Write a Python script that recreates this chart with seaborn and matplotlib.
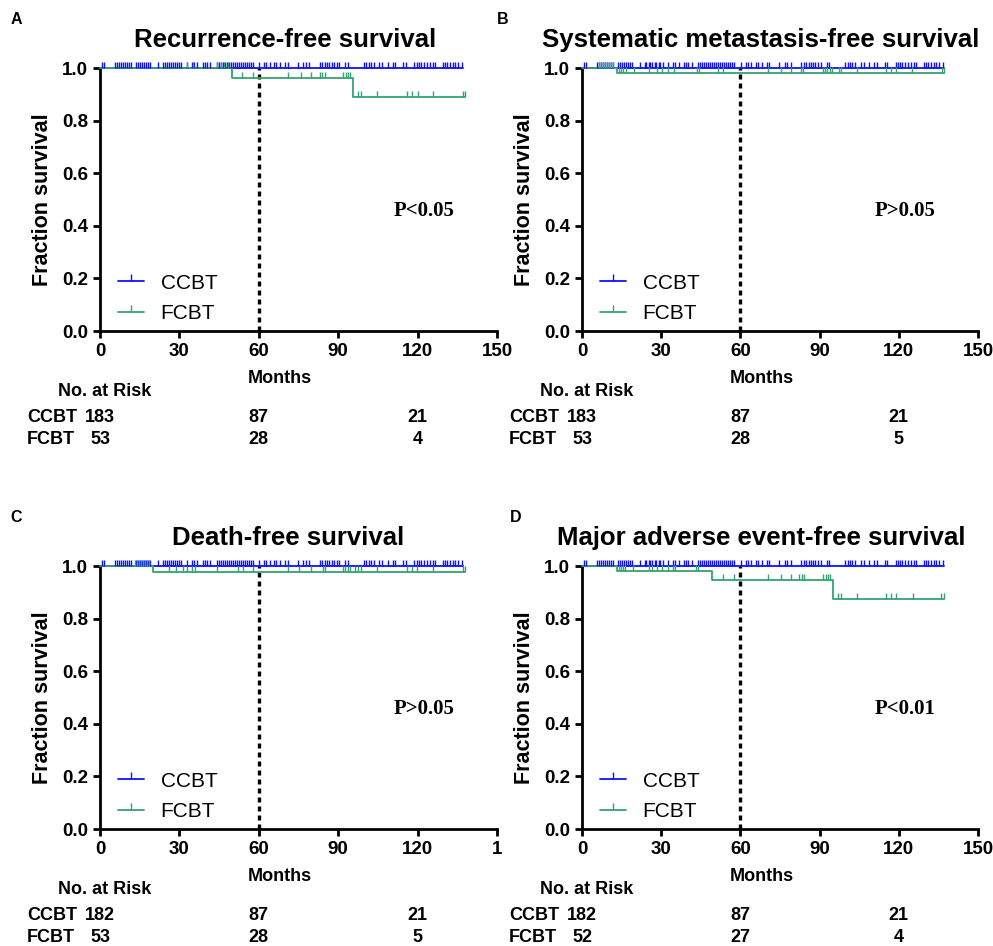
import numpy as np
import pandas as pd
import matplotlib
matplotlib.use("Agg")
import matplotlib.pyplot as plt
import seaborn as sns
from matplotlib.lines import Line2D
from matplotlib.transforms import blended_transform_factory

# ---------------- data ----------------
groups = ["CCBT", "FCBT"]
panel_letters = ["A", "B", "C", "D"]
panel_titles = ["Recurrence-free survival", "Systematic metastasis-free survival",
                "Death-free survival", "Major adverse event-free survival"]
p_values = ["P<0.05", "P>0.05", "P>0.05", "P<0.01"]
x_ticks = [0, 30, 60, 90, 120, 150]
x_ticklabels_full = ["0", "30", "60", "90", "120", "150"]
x_ticklabels_C = ["0", "30", "60", "90", "120", "1"]
y_ticks = [0.0, 0.2, 0.4, 0.6, 0.8, 1.0]
risk_times = [0, 60, 120]
landmark = 60

# CCBT: no events, censored times (shared cohort)
ccbt_step_t = [0, 137.0]
ccbt_step_s = [1.0, 1.0]
ccbt_censor = [0.8, 1.5, 5.8, 6.5, 7.3, 8.1, 8.8, 9.6, 10.3, 11.1, 11.8,
               13.6, 14.4, 15.1, 15.9, 16.6, 17.4, 18.1, 18.9, 21.8,
               23.7, 24.4, 25.2, 25.9, 26.7, 27.5, 28.2, 29.0, 29.7, 30.5,
               32.7, 34.6, 35.4, 36.8, 38.8, 39.5, 40.3, 41.6,
               44.1, 44.8, 45.6, 46.3, 47.1, 47.9, 48.6, 49.4, 50.1, 50.9,
               51.6, 52.4, 53.1, 53.9, 54.7, 55.4, 56.2, 56.9, 57.7,
               60.1, 62.0, 62.7, 64.2, 65.9, 66.6, 68.0, 69.9, 70.9, 74.8,
               76.8, 77.8, 79.1, 83.1, 84.0, 84.9, 85.8, 86.6, 87.5, 88.4,
               89.4, 90.4, 92.7, 93.7, 99.7, 100.6, 101.5, 102.4, 103.5,
               105.5, 106.7, 108.7, 110.6, 111.6, 114.6, 115.6,
               118.8, 119.6, 120.5, 121.4, 122.4, 123.4, 124.7, 125.7, 126.7,
               129.5, 130.4, 131.2, 132.2, 133.2, 134.1, 135.4, 136.6]

# FCBT step curves (time of change, survival level) and censor times per panel
A_fcbt_step_t = [0, 49.7, 95.7, 137.9]
A_fcbt_step_s = [1.0, 0.963, 0.891, 0.891]
A_fcbt_censor = [32.8, 35.1, 44.2, 45.6, 47.0, 48.4,
                 53.8, 57.8, 70.9, 75.8, 79.8, 83.1, 84.0, 85.0, 91.9, 92.8, 93.7, 94.6,
                 97.6, 98.5, 104.8, 115.9, 117.8, 120.3, 125.9, 137.0, 137.8]

B_fcbt_step_t = [0, 13.3, 137.3]
B_fcbt_step_s = [1.0, 0.981, 0.981]
B_fcbt_censor = [6.3, 7.1, 7.8, 8.6, 9.3, 10.1, 11.1, 11.8,
                 13.9, 14.6, 15.4, 16.6, 19.6, 25.4, 28.5, 30.2, 32.5, 35.0,
                 43.6, 44.3, 51.4, 53.4, 70.3, 75.3, 79.1, 82.9, 83.9, 91.1,
                 91.9, 92.9, 94.0, 94.8, 97.5, 98.2, 104.3, 115.0, 117.1,
                 119.1, 125.1, 136.4, 137.2]

C_fcbt_step_t = [0, 19.9, 137.9]
C_fcbt_step_s = [1.0, 0.978, 0.978]
C_fcbt_censor = [13.4, 14.1, 14.9, 15.6, 16.4, 17.1, 17.9, 18.6,
                 25.9, 28.8, 31.2, 32.7, 34.6, 35.8, 44.1, 52.0, 53.9, 57.7,
                 71.0, 75.1, 79.8, 84.1, 84.9, 91.9, 92.7, 93.6, 94.5, 96.3,
                 97.6, 98.6, 104.8, 115.9, 117.8, 119.9, 125.9, 137.3, 137.9]

D_fcbt_step_t = [0, 13.3, 49.2, 95.2, 137.3]
D_fcbt_step_s = [1.0, 0.981, 0.947, 0.876, 0.876]
D_fcbt_censor = [13.9, 14.6, 15.4, 16.1, 19.4, 25.2, 26.4, 28.5, 30.2, 32.5,
                 34.3, 35.3, 43.3, 44.1,
                 53.4, 57.4, 70.3, 75.3, 79.3, 82.3, 83.4, 84.1, 91.4, 92.3, 93.2, 94.1,
                 97.1, 98.0, 104.3, 115.1, 117.1, 119.1, 125.2, 136.1, 137.0]

A_risk_ccbt = [183, 87, 21]
A_risk_fcbt = [53, 28, 4]
B_risk_ccbt = [183, 87, 21]
B_risk_fcbt = [53, 28, 5]
C_risk_ccbt = [182, 87, 21]
C_risk_fcbt = [53, 28, 5]
D_risk_ccbt = [182, 87, 21]
D_risk_fcbt = [52, 27, 4]

# ---------------- style ----------------
sns.set_theme(style="ticks")
plt.rcParams["font.family"] = ["Liberation Sans", "DejaVu Sans"]
plt.rcParams["axes.linewidth"] = 2.0
for key in ["text.color", "axes.labelcolor", "xtick.color", "ytick.color",
            "axes.edgecolor", "xtick.labelcolor", "ytick.labelcolor"]:
    plt.rcParams[key] = "black"

BLUE = "#1010ff"
GREEN = "#35a372"
colors = {"CCBT": BLUE, "FCBT": GREEN}

W, H = 993, 946
fig = plt.figure(figsize=(W / 100, H / 100), dpi=100)


def px_axes(left, top, right, bottom):
    return fig.add_axes([left / W, 1 - bottom / H, (right - left) / W, (bottom - top) / H])


axes_px = [(100, 68, 497, 331), (582, 68, 978, 331),
           (100, 566, 497, 829), (582, 566, 978, 829)]
letter_px = [(16, 20), (503, 20), (16, 518), (516, 518)]
title_x = [0.466, 0.452, 0.474, 0.452]

panels = [
    (A_fcbt_step_t, A_fcbt_step_s, A_fcbt_censor, A_risk_ccbt, A_risk_fcbt, x_ticklabels_full),
    (B_fcbt_step_t, B_fcbt_step_s, B_fcbt_censor, B_risk_ccbt, B_risk_fcbt, x_ticklabels_full),
    (C_fcbt_step_t, C_fcbt_step_s, C_fcbt_censor, C_risk_ccbt, C_risk_fcbt, x_ticklabels_C),
    (D_fcbt_step_t, D_fcbt_step_s, D_fcbt_censor, D_risk_ccbt, D_risk_fcbt, x_ticklabels_full),
]


def level_at(step_t, step_s, t):
    idx = np.searchsorted(np.asarray(step_t), np.asarray(t), side="right") - 1
    return np.asarray(step_s)[np.clip(idx, 0, len(step_s) - 1)]


for i, (ft, fs, fc, rc, rf, xtl) in enumerate(panels):
    ax = px_axes(*axes_px[i])
    curves = pd.concat([
        pd.DataFrame({"t": ccbt_step_t, "s": ccbt_step_s, "g": "CCBT"}),
        pd.DataFrame({"t": ft, "s": fs, "g": "FCBT"}),
    ])
    sns.lineplot(data=curves, x="t", y="s", hue="g", palette=colors,
                 estimator=None, drawstyle="steps-post", linewidth=1.3,
                 legend=False, ax=ax, clip_on=False, zorder=3)
    # censor ticks
    ax.plot(ccbt_censor, level_at(ccbt_step_t, ccbt_step_s, ccbt_censor),
            linestyle="none", marker=2, markersize=4.5, markeredgewidth=1.0,
            color=BLUE, clip_on=False, zorder=4)
    ax.plot(fc, level_at(ft, fs, fc), linestyle="none", marker=2,
            markersize=4.5, markeredgewidth=1.0, color=GREEN, clip_on=False, zorder=5)

    ax.axvline(landmark, ymin=0, ymax=1, color="black", linewidth=2.4,
               linestyle=(0, (1.5, 1.2)), zorder=2)

    ax.set_xlim(0, 150)
    ax.set_ylim(0, 1.0)
    ax.set_xticks(x_ticks)
    ax.set_xticklabels(xtl)
    ax.set_yticks(y_ticks)
    ax.set_yticklabels([f"{v:.1f}" for v in y_ticks])
    ax.tick_params(axis="both", direction="out", length=5, width=2.0,
                   pad=3.5, labelsize=13.5, color="black", labelcolor="black")
    for lab in ax.get_xticklabels() + ax.get_yticklabels():
        lab.set_fontweight("bold")
    sns.despine(ax=ax)
    ax.spines["left"].set_linewidth(2.0)
    ax.spines["bottom"].set_linewidth(2.0)
    ax.spines["left"].set_color("black")
    ax.spines["bottom"].set_color("black")
    ax.grid(False)

    ax.set_ylabel("Fraction survival", fontsize=15.5, fontweight="bold", va="center")
    ax.yaxis.set_label_coords(-0.146, 0.5)
    ax.set_xlabel("Months", fontsize=13, fontweight="bold", va="center")
    ax.xaxis.set_label_coords(0.453, -0.179)

    ax.text(title_x[i], 1 + 28 / 263, panel_titles[i], transform=ax.transAxes,
            ha="center", va="center", fontsize=18.5, fontweight="bold")
    fig.text(letter_px[i][0] / W, 1 - letter_px[i][1] / H, panel_letters[i],
             ha="center", va="center", fontsize=11.5, fontweight="bold")

    ax.text(122.5, 0.455, p_values[i], ha="center", va="center", fontsize=15,
            fontweight="bold", family=["Liberation Serif", "DejaVu Serif"])

    handles = [Line2D([0], [0], color=colors[g], linewidth=1.3, marker=2,
                      markersize=5, markeredgewidth=1.0) for g in groups]
    ax.legend(handles, groups, loc="lower left", bbox_to_anchor=(0.045, 0.03),
              frameon=False, fontsize=15, handlelength=1.25, handletextpad=0.8,
              labelspacing=0.55, borderpad=0, borderaxespad=0, numpoints=1)

    tr = blended_transform_factory(ax.transData, ax.transAxes)
    ax.text(-15.9, -60 / 263, "No. at Risk", transform=tr, ha="left", va="center",
            fontsize=13, fontweight="bold", clip_on=False)
    for row_y, name, vals in [(-86 / 263, "CCBT", rc), (-108 / 263, "FCBT", rf)]:
        ax.text(-27.6, row_y, name, transform=tr, ha="left", va="center",
                fontsize=13, fontweight="bold", clip_on=False)
        for t, v in zip(risk_times, vals):
            ax.text(t, row_y, str(v), transform=tr, ha="center", va="center",
                    fontsize=13, fontweight="bold", clip_on=False)

fig.savefig("out.png", dpi=100)
